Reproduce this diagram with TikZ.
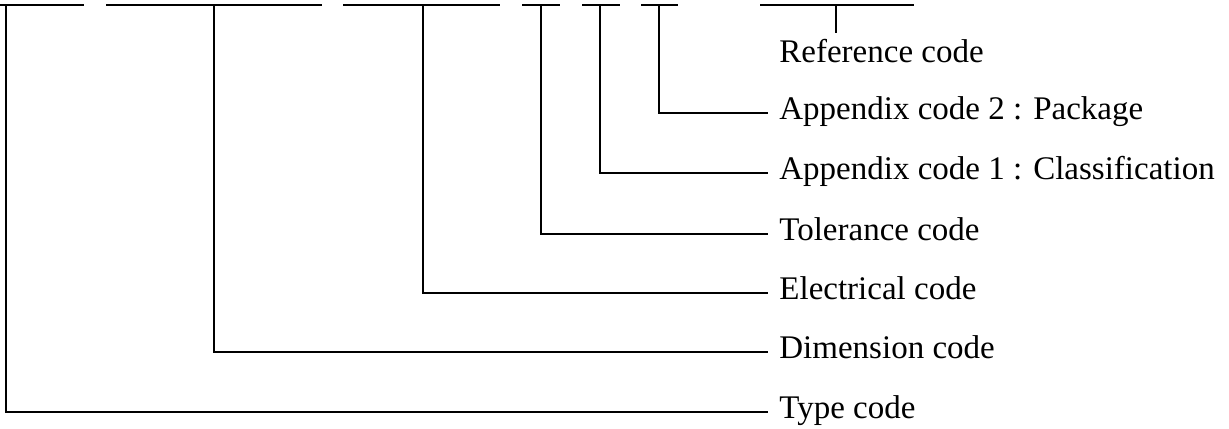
\documentclass[tikz,border=0pt]{standalone}
\usepackage{fontspec}
\setmainfont{Liberation Serif}
\begin{document}
\begin{tikzpicture}[x=0.5pt,y=-0.5pt,
  wire/.style={line width=1pt,black},
  lbl/.style={anchor=west,font=\fontsize{16.5}{19}\selectfont,text height=11pt,text depth=4.5pt,inner xsep=5.5pt,inner ysep=3.5pt}]
\useasboundingbox (0,0) rectangle (1229,428);
% top segments
\coordinate (s1a) at (0,5);   \coordinate (s1b) at (84,5);
\coordinate (s2a) at (106,5); \coordinate (s2b) at (322,5);
\coordinate (s3a) at (343,5); \coordinate (s3b) at (500,5);
\coordinate (s4a) at (522,5); \coordinate (s4b) at (560,5);
\coordinate (s5a) at (582,5); \coordinate (s5b) at (620,5);
\coordinate (s6a) at (641,5); \coordinate (s6b) at (678,5);
\coordinate (s7a) at (760,5); \coordinate (s7b) at (914,5);
\draw[wire] (s1a) -- (s1b);
\draw[wire] (s2a) -- (s2b);
\draw[wire] (s3a) -- (s3b);
\draw[wire] (s4a) -- (s4b);
\draw[wire] (s5a) -- (s5b);
\draw[wire] (s6a) -- (s6b);
\draw[wire] (s7a) -- (s7b);
% tap points
\coordinate (tType) at (6,5);
\coordinate (tDim) at (214,5);
\coordinate (tEl) at (423,5);
\coordinate (tTol) at (541,5);
\coordinate (tA1) at (600,5);
\coordinate (tA2) at (659,5);
\coordinate (tRef) at (836,5);
% labels
\node[lbl] (lRef) at (768,55.5) {Reference code};
\node[lbl] (lA2) at (768,113) {Appendix code 2 : Package};
\node[lbl] (lA1) at (768,173) {Appendix code 1 : Classification};
\node[lbl] (lTol) at (768,233.5) {Tolerance code};
\node[lbl] (lEl) at (768,293) {Electrical code};
\node[lbl] (lDim) at (768,352) {Dimension code};
\node[lbl] (lType) at (768,412) {Type code};
% connectors
\draw[wire] (tRef) -- (tRef |- lRef.north);
\draw[wire] (tA2) |- (lA2.west);
\draw[wire] (tA1) |- (lA1.west);
\draw[wire] (tTol) |- (lTol.west);
\draw[wire] (tEl) |- (lEl.west);
\draw[wire] (tDim) |- (lDim.west);
\draw[wire] (tType) |- (lType.west);
\end{tikzpicture}
\end{document}
